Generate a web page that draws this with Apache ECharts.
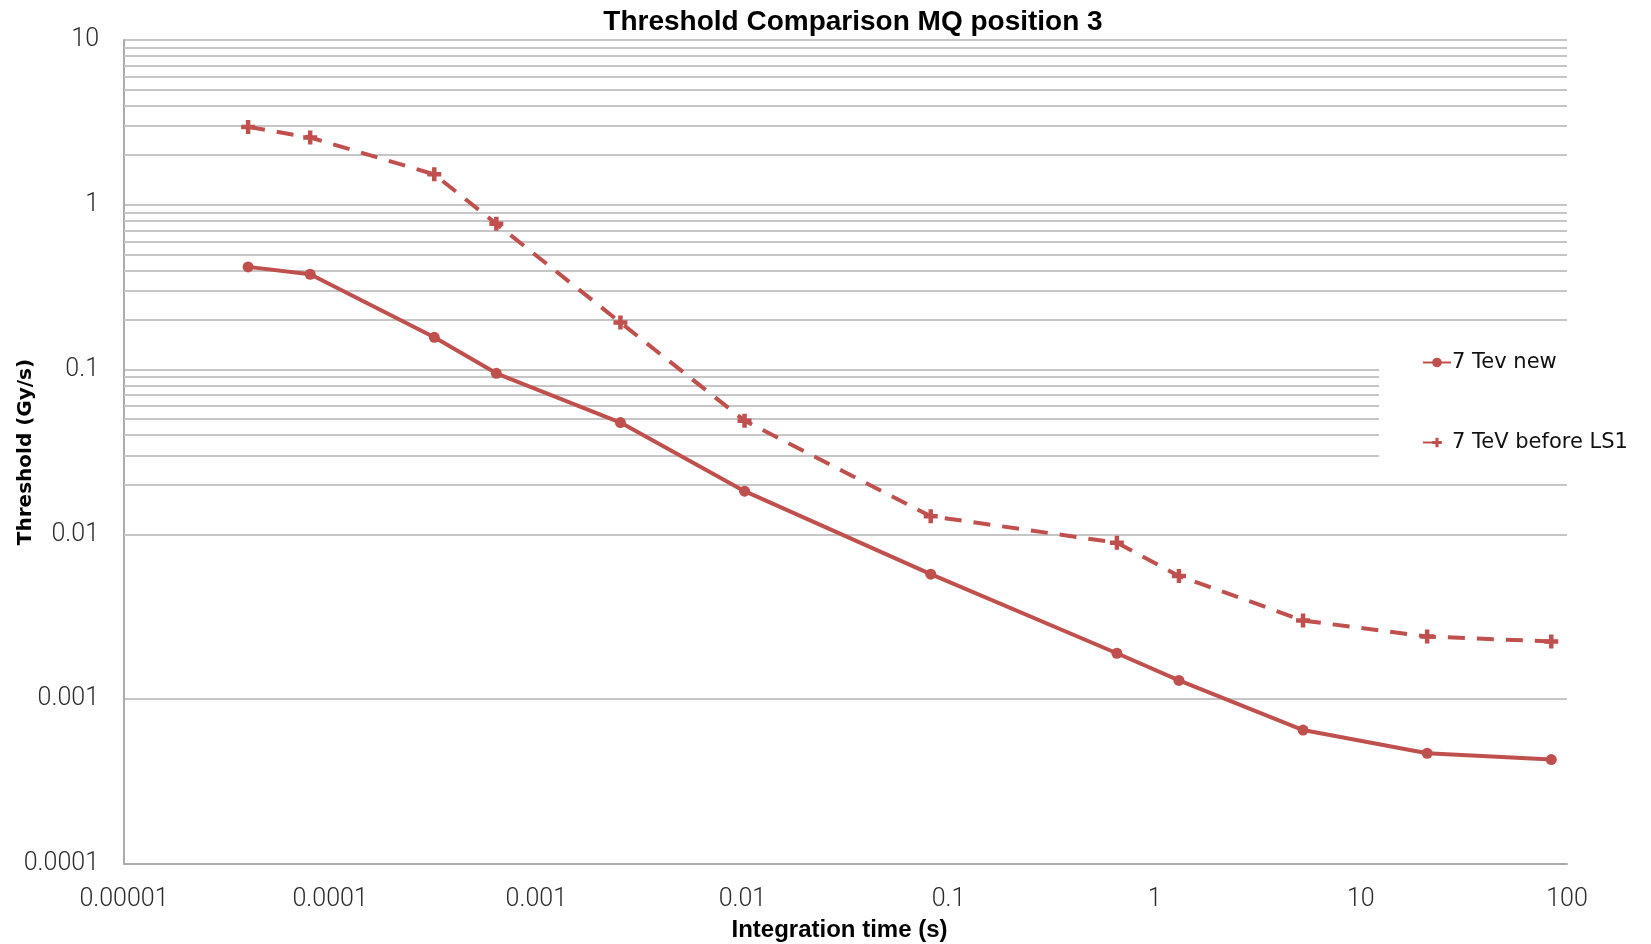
<!DOCTYPE html>
<html>
<head>
<meta charset="utf-8">
<script src="https://cdn.jsdelivr.net/npm/echarts@6/dist/echarts.min.js"></script>
<style>
html,body{margin:0;padding:0;background:#fff;}
#chart{width:1651px;height:944px;}
</style>
</head>
<body>
<div id="chart"></div>
<script>
// Integration times (s)
const integrationTimes = [0.00004, 0.00008, 0.00032, 0.00064, 0.00256, 0.01024, 0.08192, 0.65536, 1.31072, 5.24288, 20.97152, 83.88608];
// 7 Tev new (Gy/s)
const tevNew = [0.42, 0.379, 0.157, 0.095, 0.0477, 0.0183, 0.00574, 0.0019, 0.0013, 0.00065, 0.00047, 0.00043];
// 7 TeV before LS1 (Gy/s)
const tevBeforeLS1 = [2.97, 2.56, 1.53, 0.767, 0.193, 0.049, 0.0129, 0.0089, 0.0056, 0.0030, 0.0024, 0.00224];

const seriesNames = ['7 Tev new', '7 TeV before LS1'];
const xTickLabels = ['0.00001', '0.0001', '0.001', '0.01', '0.1', '1', '10', '100'];
const yTickLabels = ['0.0001', '0.001', '0.01', '0.1', '1', '10'];
const minorMultipliers = [2, 3, 4, 5, 6, 7, 8, 9];
const minorDecades = [-4, -3, -2, -1, 0];

const RED = '#C0504D';
const GRID = '#c6c6c6';

const minorLines = [];
minorDecades.forEach(e => minorMultipliers.forEach(m => minorLines.push({ yAxis: m * Math.pow(10, e) })));

const pair = (xs, ys) => xs.map((x, i) => [x, ys[i]]);
const labelFrom = (arr, minExp) => v => {
  const k = Math.round(Math.log10(v)) - minExp;
  return arr[k] !== undefined ? arr[k] : '';
};

const plusPath = 'path://M3.4,0H6.6V3.4H10V6.6H6.6V10H3.4V6.6H0V3.4H3.4Z';

const chart = echarts.init(document.getElementById('chart'), null, { renderer: 'canvas' });
chart.setOption({
  animation: false,
  backgroundColor: '#fff',
  title: {
    text: 'Threshold Comparison MQ position 3',
    left: 853, top: 8, textAlign: 'center', padding: 0,
    textStyle: { fontFamily: 'Liberation Sans', fontWeight: 'bold', fontSize: 28, color: '#000' }
  },
  grid: { left: 124, right: 84, top: 40, bottom: 80, containLabel: false, outerBoundsMode: 'none' },
  legend: {
    data: seriesNames,
    orient: 'vertical',
    left: 1379, top: 342,
    z: 10,
    padding: [10, 14, 10, 43],
    itemGap: 59,
    itemWidth: 28, itemHeight: 12,
    backgroundColor: '#fff',
    textStyle: { fontFamily: 'DejaVu Sans', fontSize: 21, color: '#111', padding: [0, 0, 0, -4] }
  },
  xAxis: {
    type: 'log', logBase: 10, min: 0.00001, max: 100, splitNumber: 7,
    name: 'Integration time (s)', nameLocation: 'middle', nameGap: 54, nameMoveOverlap: false,
    nameTextStyle: { fontFamily: 'Liberation Sans', fontWeight: 'bold', fontSize: 24, color: '#000', padding: [0, 12, 0, 0] },
    axisLine: { show: true, lineStyle: { color: '#ababab', width: 2 } },
    axisTick: { show: false },
    splitLine: { show: false },
    axisLabel: { margin: 23, fontFamily: 'Roboto', fontWeight: 300, fontSize: 25, color: '#2a2a2a', formatter: labelFrom(xTickLabels, -5) }
  },
  yAxis: {
    type: 'log', logBase: 10, min: 0.0001, max: 10, splitNumber: 5,
    name: 'Threshold (Gy/s)', nameLocation: 'middle', nameGap: 88, nameMoveOverlap: false,
    nameTextStyle: { fontFamily: 'DejaVu Sans', fontWeight: 'bold', fontSize: 20, color: '#000' },
    axisLine: { show: true, lineStyle: { color: '#ababab', width: 2 } },
    axisTick: { show: false },
    splitLine: { show: true, lineStyle: { color: GRID, width: 2 } },
    axisLabel: { margin: 25, fontFamily: 'Roboto', fontWeight: 300, fontSize: 25, color: '#2a2a2a', formatter: labelFrom(yTickLabels, -4) }
  },
  series: [
    {
      name: 'minor-grid', type: 'line', data: [], z: 1, silent: true,
      markLine: {
        silent: true, z: 1, symbol: ['none', 'none'], label: { show: false },
        emphasis: { disabled: true },
        lineStyle: { color: GRID, width: 2, type: 'solid' },
        data: minorLines
      }
    },
    {
      name: seriesNames[0], type: 'line', data: pair(integrationTimes, tevNew),
      symbol: 'circle', symbolSize: 11, z: 3,
      lineStyle: { color: RED, width: 4 },
      itemStyle: { color: RED }
    },
    {
      name: seriesNames[1], type: 'line', data: pair(integrationTimes, tevBeforeLS1),
      symbol: plusPath, symbolSize: 14, z: 3,
      lineStyle: { color: RED, width: 4, type: [17, 12] },
      itemStyle: { color: RED }
    }
  ]
});
</script>
</body>
</html>
